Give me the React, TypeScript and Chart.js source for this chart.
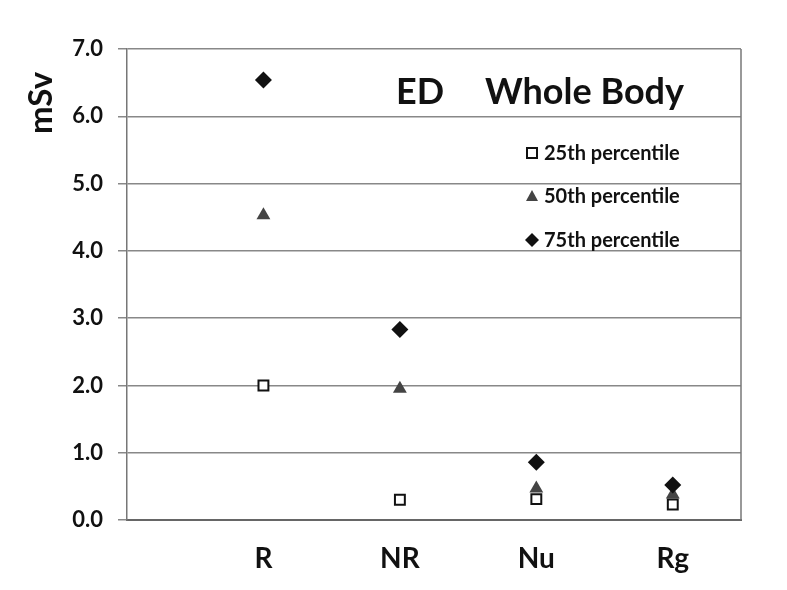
import React, { useEffect, useRef } from "react";
import { Chart, registerables } from "chart.js";

Chart.register(...registerables);

const categories = ["R", "NR", "Nu", "Rg"];
const p25 = [2.0, 0.3, 0.31, 0.23];
const p50 = [4.53, 1.95, 0.47, 0.38];
const p75 = [6.54, 2.83, 0.86, 0.52];
const seriesNames = ["25th percentile", "50th percentile", "75th percentile"];
const yTicks = [0, 1, 2, 3, 4, 5, 6, 7];

const FONT = "Lato, 'Open Sans', sans-serif";
const W = "bold";

const toPoints = (vals: number[]) => vals.map((v, i) => ({ x: i + 1, y: v }));

const overlay = {
  id: "overlay",
  afterDraw(chart: any) {
    const { ctx, chartArea } = chart;
    ctx.save();
    // right border
    ctx.strokeStyle = "#777";
    ctx.lineWidth = 1.5;
    ctx.beginPath();
    ctx.moveTo(chartArea.right, chartArea.top);
    ctx.lineTo(chartArea.right, chartArea.bottom);
    ctx.stroke();

    // axis title
    ctx.fillStyle = "#111";
    ctx.font = `${W} 33px ${FONT}`;
    ctx.textAlign = "center";
    ctx.textBaseline = "middle";
    ctx.translate(41, 103);
    ctx.rotate(-Math.PI / 2);
    ctx.fillText("mSv", 0, 0);
    ctx.restore();

    ctx.save();
    ctx.fillStyle = "#111";
    ctx.font = `${W} 36px ${FONT}`;
    ctx.textAlign = "left";
    ctx.textBaseline = "alphabetic";
    ctx.fillText("ED", 396, 104);
    ctx.fillText("Whole Body", 485, 104);

    // legend
    const ys = [153, 196, 240];
    ctx.font = `${W} 20px ${FONT}`;
    ctx.textBaseline = "middle";
    ys.forEach((y, i) => {
      const mx = 532;
      if (i === 0) {
        ctx.fillStyle = "#fff";
        ctx.strokeStyle = "#111";
        ctx.lineWidth = 2;
        ctx.fillRect(mx - 5, y - 5, 10, 10);
        ctx.strokeRect(mx - 5, y - 5, 10, 10);
      } else if (i === 1) {
        ctx.fillStyle = "#444";
        ctx.beginPath();
        ctx.moveTo(mx, y - 6);
        ctx.lineTo(mx + 6, y + 5);
        ctx.lineTo(mx - 6, y + 5);
        ctx.closePath();
        ctx.fill();
      } else {
        ctx.fillStyle = "#111";
        ctx.beginPath();
        ctx.moveTo(mx, y - 7);
        ctx.lineTo(mx + 7, y);
        ctx.lineTo(mx, y + 7);
        ctx.lineTo(mx - 7, y);
        ctx.closePath();
        ctx.fill();
      }
      ctx.fillStyle = "#111";
      ctx.fillText(seriesNames[i], 544, y + 1);
    });
    ctx.restore();
  },
};

export default function App() {
  const ref = useRef<HTMLCanvasElement>(null);
  useEffect(() => {
    if (!ref.current) return;
    const chart = new Chart(ref.current, {
      type: "scatter",
      data: {
        datasets: [
          {
            label: seriesNames[0],
            data: toPoints(p25),
            pointStyle: "rect",
            pointRadius: 7,
            backgroundColor: "#fff",
            borderColor: "#111",
            borderWidth: 2,
            order: 0,
          },
          {
            label: seriesNames[1],
            data: toPoints(p50),
            pointStyle: "triangle",
            pointRadius: 8,
            backgroundColor: "#444",
            borderColor: "#444",
            borderWidth: 0,
            order: 2,
          },
          {
            label: seriesNames[2],
            data: toPoints(p75),
            pointStyle: "rectRot",
            pointRadius: 8.5,
            backgroundColor: "#111",
            borderColor: "#111",
            borderWidth: 0,
            order: 1,
          },
        ],
      },
      options: {
        animation: false,
        responsive: true,
        maintainAspectRatio: false,
        layout: { padding: { left: 0, right: 46, top: 49, bottom: 0 } },
        plugins: { legend: { display: false }, tooltip: { enabled: false } },
        scales: {
          x: {
            type: "linear",
            min: 0,
            max: 4.5,
            afterBuildTicks: (scale: any) => {
              scale.ticks = categories.map((_, i) => ({ value: i + 1 }));
            },
            afterFit: (scale: any) => {
              scale.height = 70;
            },
            grid: { display: false },
            border: { display: true, color: "#666", width: 2 },
            ticks: {
              callback: (v: any) => categories[Number(v) - 1] ?? "",
              font: { family: FONT, size: 28, weight: W },
              color: "#111",
              padding: 14,
              maxRotation: 0,
              autoSkip: false,
            },
          },
          y: {
            min: 0,
            max: 7,
            afterBuildTicks: (scale: any) => {
              scale.ticks = yTicks.map((v) => ({ value: v }));
            },
            afterFit: (scale: any) => {
              scale.width = 127;
            },
            grid: { color: "#888", lineWidth: 1.5, tickLength: 9, drawTicks: true },
            border: { display: true, color: "#777", width: 1.5 },
            ticks: {
              callback: (v: any) => Number(v).toFixed(1),
              font: { family: FONT, size: 22, weight: W },
              color: "#111",
              padding: 15,
            },
          },
        },
      },
      plugins: [overlay],
    });
    return () => chart.destroy();
  }, []);
  return (
    <div style={{ position: "fixed", left: 0, top: 0, width: 787, height: 590, background: "#fff" }}>
      <canvas ref={ref} />
    </div>
  );
}
